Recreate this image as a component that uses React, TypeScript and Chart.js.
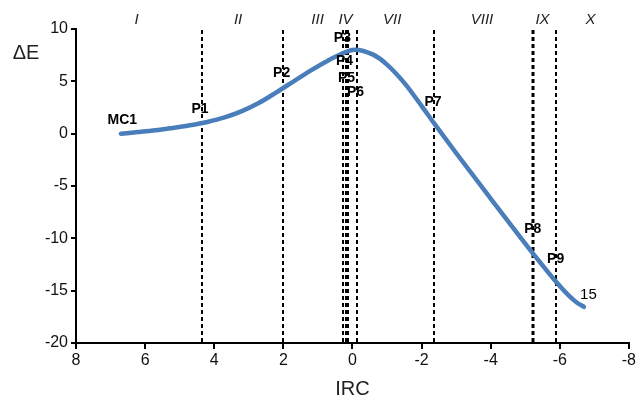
import React, { useEffect, useRef } from "react";
import { Chart, registerables } from "chart.js";

Chart.register(...registerables);

// Curve (IRC, ΔE)
const ircValues = [6.7, 6.2, 5.7, 5.2, 4.7, 4.2, 3.7, 3.2, 2.7, 2.2, 1.7, 1.2, 0.7, 0.3, -0.05, -0.6, -1.0, -1.5, -2.0, -2.36, -3.0, -4.0, -5.0, -5.2, -5.88, -6.27, -6.5, -6.7];
const energyValues = [0.0, 0.15, 0.32, 0.55, 0.8, 1.12, 1.55, 2.15, 2.95, 3.95, 5.0, 6.05, 7.0, 7.65, 8.02, 7.55, 6.6, 4.85, 2.65, 1.0, -1.85, -6.2, -10.5, -11.35, -14.1, -15.5, -16.15, -16.55];

// Vertical dividers (IRC)
const dividerIRC = [4.35, 2.0, 0.28, 0.2, 0.13, -0.13, -2.36, -5.22, -5.89];
const dividerWidth = [2, 2, 2, 2, 2, 2, 2, 3, 2];

// Region labels
const regionNames = ["I", "II", "III", "IV", "VII", "VIII", "IX", "X"];
const regionIRC = [6.25, 3.31, 1.01, 0.2, -1.15, -3.75, -5.5, -6.89];

// Point labels (anchor in data units)
const pointNames = ["MC1", "P1", "P2", "P3", "P4", "P5", "P6", "P7", "P8", "P9", "15"];
const pointIRC = [6.66, 4.41, 2.05, 0.29, 0.23, 0.17, -0.09, -2.33, -5.22, -5.88, -6.83];
const pointE = [1.26, 2.3, 5.8, 9.15, 6.9, 5.35, 4.0, 3.0, -9.1, -12.0, -15.4];
const pointBold = [true, true, true, true, true, true, true, true, true, true, false];

const xTicks = [8, 6, 4, 2, 0, -2, -4, -6, -8];
const yTicks = [10, 5, 0, -5, -10, -15, -20];

const FONT = "'Liberation Sans', Arial, sans-serif";

const overlayPlugin = {
  id: "overlay",
  beforeDatasetsDraw(chart: any) {
    const { ctx, chartArea, scales } = chart;
    const x = scales.x;
    ctx.save();
    ctx.strokeStyle = "#000";
    ctx.setLineDash([4, 3]);
    dividerIRC.forEach((v, i) => {
      const px = Math.round(x.getPixelForValue(v));
      ctx.lineWidth = dividerWidth[i];
      ctx.beginPath();
      ctx.moveTo(px, chartArea.top + 1);
      ctx.lineTo(px, chartArea.bottom);
      ctx.stroke();
    });
    ctx.restore();
  },
  afterDraw(chart: any) {
    const { ctx, chartArea, scales } = chart;
    const x = scales.x;
    const y = scales.y;
    ctx.save();
    ctx.textAlign = "center";
    ctx.textBaseline = "middle";
    // region labels
    ctx.fillStyle = "#222";
    ctx.font = `italic 15px ${FONT}`;
    regionNames.forEach((n, i) => {
      ctx.fillText(n, x.getPixelForValue(regionIRC[i]), chartArea.top - 9);
    });
    // point labels
    pointNames.forEach((n, i) => {
      ctx.font = `${pointBold[i] ? "bold " : ""}${pointBold[i] ? 14 : 15}px ${FONT}`;
      ctx.fillStyle = "#000";
      ctx.fillText(n, x.getPixelForValue(pointIRC[i]), y.getPixelForValue(pointE[i]));
    });
    // axis titles
    ctx.fillStyle = "#222";
    ctx.font = `20px ${FONT}`;
    ctx.fillText("ΔE", 26, 53);
    ctx.fillText("IRC", (chartArea.left + chartArea.right) / 2, 389);
    ctx.restore();
  },
};

export default function App() {
  const ref = useRef<HTMLCanvasElement>(null);
  useEffect(() => {
    if (!ref.current) return;
    const chart = new Chart(ref.current, {
      type: "line",
      data: {
        datasets: [
          {
            data: ircValues.map((v, i) => ({ x: v, y: energyValues[i] })),
            borderColor: "#4a7ebb",
            borderWidth: 4.5,
            pointRadius: 0,
            cubicInterpolationMode: "monotone",
            borderCapStyle: "round",
            borderJoinStyle: "round",
            fill: false,
          },
        ],
      },
      options: {
        responsive: false,
        animation: false,
        layout: { padding: { top: 29, right: 7, left: 0, bottom: 0 } },
        plugins: { legend: { display: false }, tooltip: { enabled: false } },
        scales: {
          x: {
            type: "linear",
            min: -8,
            max: 8,
            reverse: true,
            afterBuildTicks: (s: any) => {
              s.ticks = xTicks.map((v) => ({ value: v }));
            },
            afterFit: (s: any) => {
              s.height = 55;
            },
            border: { display: true, color: "#000", width: 2 },
            grid: { display: true, drawOnChartArea: false, drawTicks: true, tickLength: 6, color: "#000", lineWidth: 2 },
            ticks: { color: "#111", font: { family: FONT, size: 16 }, padding: 2, maxRotation: 0, autoSkip: false },
          },
          y: {
            type: "linear",
            min: -20,
            max: 10,
            afterBuildTicks: (s: any) => {
              s.ticks = yTicks.map((v) => ({ value: v }));
            },
            afterFit: (s: any) => {
              s.width = 76;
            },
            border: { display: true, color: "#000", width: 2 },
            grid: { display: true, drawOnChartArea: false, drawTicks: true, tickLength: 5, color: "#000", lineWidth: 2 },
            ticks: { color: "#111", font: { family: FONT, size: 16 }, padding: 3 },
          },
        },
      },
      plugins: [overlayPlugin],
    } as any);
    return () => chart.destroy();
  }, []);
  return (
    <canvas
      ref={ref}
      width={638}
      height={398}
      style={{ position: "fixed", left: 0, top: 0, width: 638, height: 398, display: "block", background: "#fff" }}
    />
  );
}
